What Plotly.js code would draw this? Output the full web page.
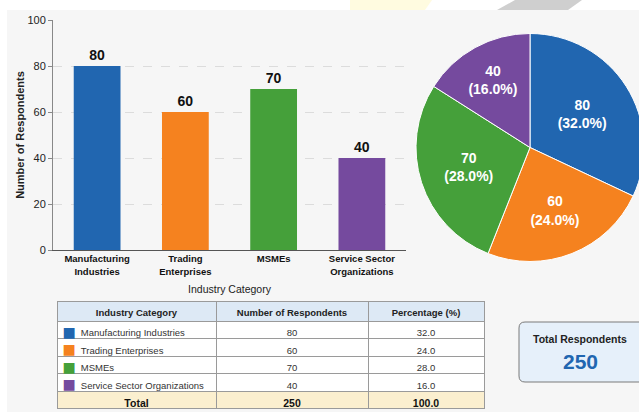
<!DOCTYPE html>
<html>
<head>
<meta charset="utf-8">
<script src="https://cdn.plot.ly/plotly-3.0.1.min.js"></script>
<style>
html,body{margin:0;padding:0;overflow:hidden;background:#fff;}
#chart{width:660px;height:412px;}
</style>
</head>
<body>
<div id="chart"></div>
<script>
// ---- data ----
const categories = ["Manufacturing Industries", "Trading Enterprises", "MSMEs", "Service Sector Organizations"];
const tickLabels = ["Manufacturing<br>Industries", "Trading<br>Enterprises", "MSMEs", "Service Sector<br>Organizations"];
const respondents = [80, 60, 70, 40];
const percentages = [32.0, 24.0, 28.0, 16.0];
const colors = ["#2166b0", "#f5821f", "#45a03a", "#754a9e"];
const tableHeaders = ["Industry Category", "Number of Respondents", "Percentage (%)"];

// ---- helpers ----
const W = 660, H = 412;
const fx = p => p / W;
const fy = p => 1 - p / H;
const FONT = "Liberation Sans, Arial, Helvetica, sans-serif";

const total = respondents.reduce((a, b) => a + b, 0);
const pctTotal = percentages.reduce((a, b) => a + b, 0);

const barTrace = {
  type: "bar",
  x: tickLabels,
  y: respondents,
  marker: {color: colors, line: {width: 0}},
  texttemplate: "<b>%{y}</b>",
  textposition: "outside",
  cliponaxis: false,
  textfont: {size: 14, color: "#111", family: FONT},
  hoverinfo: "skip",
  xaxis: "x", yaxis: "y",
  showlegend: false
};

const pieTrace = {
  type: "pie",
  labels: categories,
  values: respondents,
  sort: false,
  direction: "clockwise",
  rotation: 0,
  marker: {colors: colors, line: {color: "#ffffff", width: 1}},
  texttemplate: "%{value}<br>(%{percent:.1%})",
  textposition: "inside",
  insidetextorientation: "horizontal",
  textfont: {size: 14, color: "#ffffff", family: FONT, weight: "bold"},
  domain: {x: [fx(416), fx(644)], y: [fy(262), fy(33)]},
  showlegend: false,
  hoverinfo: "skip"
};

const PAD = "\u00a0".repeat(6);
const col1 = categories.map(c => PAD + c).concat(["Total"]);
const col2 = respondents.map(v => String(v)).concat([String(total)]);
const col3 = percentages.map(v => v.toFixed(1)).concat([pctTotal.toFixed(1)]);
const rowFill = respondents.map(() => "#ffffff").concat(["#fbefcf"]);
const rowWeight = respondents.map(() => "normal").concat(["bold"]);
const rowColor = respondents.map(() => "#333333").concat(["#111111"]);
const rowSize = respondents.map(() => 9.5).concat([10.5]);

const tableTrace = {
  type: "table",
  domain: {x: [fx(57), fx(484)], y: [0, fy(301)]},
  columnwidth: [159, 152, 116],
  header: {
    values: tableHeaders,
    align: "center",
    height: 20,
    fill: {color: "#dde9f5"},
    line: {color: "#9a9a9a", width: 1},
    font: {size: 9.5, color: "#222", family: FONT, weight: "bold"}
  },
  cells: {
    values: [col1, col2, col3],
    align: [["left", "left", "left", "left", "center"], "center", "center"],
    height: 17.5,
    fill: {color: [rowFill, rowFill, rowFill]},
    line: {color: "#9a9a9a", width: 1},
    font: {size: [rowSize, rowSize, rowSize], color: [rowColor, rowColor, rowColor],
           family: FONT, weight: [rowWeight, rowWeight, rowWeight]}
  }
};

// colour swatches drawn as a transparent overlay table on the first column
const swatchTrace = {
  type: "table",
  domain: {x: [fx(57), fx(82)], y: [0, fy(298)]},
  header: {
    values: [""],
    height: 20,
    fill: {color: "rgba(0,0,0,0)"},
    line: {color: "rgba(0,0,0,0)", width: 0}
  },
  cells: {
    values: [categories.map(() => "■")],
    align: "center",
    height: 17.5,
    fill: {color: "rgba(0,0,0,0)"},
    line: {color: "rgba(0,0,0,0)", width: 0},
    font: {size: 14, color: [colors], family: "DejaVu Sans"}
  }
};

const layout = {
  width: W, height: H,
  margin: {l: 0, r: 0, t: 0, b: 0},
  paper_bgcolor: "#ffffff",
  plot_bgcolor: "rgba(0,0,0,0)",
  font: {family: FONT, color: "#222"},
  bargap: 0.47,
  xaxis: {
    domain: [fx(53), fx(406)],
    showline: true, linecolor: "#555", linewidth: 1,
    ticks: "", showgrid: false,
    tickfont: {size: 9.5, color: "#111", family: FONT, weight: "bold"},
    title: {text: "Industry Category", font: {size: 10.5, color: "#222"}, standoff: 9},
    fixedrange: true
  },
  yaxis: {
    domain: [fy(250), fy(20)],
    range: [0, 100],
    dtick: 20,
    showline: true, linecolor: "#888", linewidth: 1,
    ticks: "outside", ticklen: 4, tickcolor: "#888",
    showgrid: true, gridcolor: "#dcdcdc", griddash: "dash", gridwidth: 1,
    zeroline: false,
    tickfont: {size: 11, color: "#222", family: FONT},
    title: {text: "Number of Respondents", font: {size: 11, color: "#222", weight: "bold"}, standoff: 0},
    fixedrange: true
  },
  shapes: [
    {type: "rect", xref: "paper", yref: "paper", x0: fx(7), x1: 1, y0: 0, y1: fy(10),
     fillcolor: "#f6f6f6", line: {width: 0}, layer: "below"},
    {type: "path", xref: "paper", yref: "paper",
     path: `M ${fx(350)},1 L ${fx(432)},1 L ${fx(425)},${fy(10)} L ${fx(350)},${fy(10)} Z`,
     fillcolor: "#fffbe0", line: {width: 0}, layer: "below"},
    {type: "path", xref: "paper", yref: "paper",
     path: `M ${fx(515)},1 L ${fx(582)},1 L ${fx(568)},${fy(10)} L ${fx(497)},${fy(10)} Z`,
     fillcolor: "#cfcfcf", line: {width: 0}, layer: "below"},
    {type: "path", xref: "paper", yref: "paper",
     path: (() => {
       const x0 = fx(519), x1 = fx(645), y0 = fy(382), y1 = fy(322), rx = fx(6), ry = 6 / H;
       return `M ${x0 + rx},${y0} L ${x1 - rx},${y0} Q ${x1},${y0} ${x1},${y0 + ry} L ${x1},${y1 - ry} Q ${x1},${y1} ${x1 - rx},${y1} L ${x0 + rx},${y1} Q ${x0},${y1} ${x0},${y1 - ry} L ${x0},${y0 + ry} Q ${x0},${y0} ${x0 + rx},${y0} Z`;
     })(),
     fillcolor: "#e6f0fa", line: {color: "#7a7a7a", width: 1}, layer: "above"}
  ],
  annotations: [
    {xref: "paper", yref: "paper", x: fx(580), y: fy(339), text: "<b>Total Respondents</b>",
     showarrow: false, font: {size: 10.5, color: "#222"}, xanchor: "center", yanchor: "middle"},
    {xref: "paper", yref: "paper", x: fx(580), y: fy(361), text: `<b>${total}</b>`,
     showarrow: false, font: {size: 21, color: "#2166b0"}, xanchor: "center", yanchor: "middle"}
  ]
};

Plotly.newPlot("chart", [barTrace, pieTrace, tableTrace, swatchTrace], layout, {displayModeBar: false, staticPlot: true});
</script>
</body>
</html>
